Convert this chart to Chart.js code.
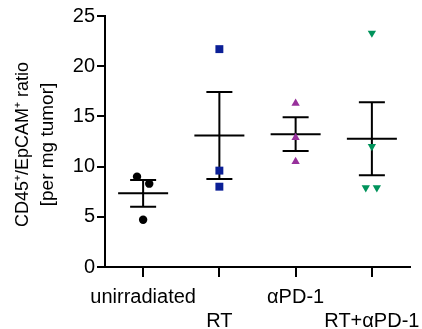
<!DOCTYPE html>
<html>
<head>
<meta charset="utf-8">
<script src="https://cdn.jsdelivr.net/npm/chart.js@4/dist/chart.umd.min.js"></script>
<style>
  html, body { margin: 0; padding: 0; background: #fff; }
  #wrap { width: 422px; height: 329px; }
</style>
</head>
<body>
<div id="wrap"><canvas id="chart"></canvas></div>
<script>
// Data
const groups = ["unirradiated", "RT", "\u03b1PD-1", "RT+\u03b1PD-1"];
const unirradiated = [9.0, 8.3, 4.7];
const rt = [21.7, 9.6, 8.0];
const aPD1 = [16.3, 12.9, 10.5];
const rtAPD1 = [23.3, 12.0, 7.9, 7.9];
// small horizontal scatter of points (in group units)
const jitter = [[-0.08, 0.08, 0], [0, 0, 0], [0, 0, 0], [0, 0, -0.08, 0.065]];
const yTicks = [0, 5, 10, 15, 20, 25];

const series = [unirradiated, rt, aPD1, rtAPD1];
const colors = ["#000000", "#0b1f96", "#97309b", "#00935b"];
const shapes = ["circle", "rect", "triangle", "triangle"];

const mean = (a) => a.reduce((s, v) => s + v, 0) / a.length;
const sem = (a) => {
  const m = mean(a);
  const v = a.reduce((s, x) => s + (x - m) * (x - m), 0) / (a.length - 1);
  return Math.sqrt(v / a.length);
};

const FONT = "'Liberation Sans', Arial, Helvetica, sans-serif";

// mean +- SEM bars
const errorBars = {
  id: "errorBars",
  beforeDatasetsDraw(chart) {
    const { ctx, scales } = chart;
    const x = scales.x, y = scales.y;
    ctx.save();
    ctx.strokeStyle = "#000";
    ctx.lineWidth = 2;
    series.forEach((vals, i) => {
      const m = mean(vals), s = sem(vals);
      const px = x.getPixelForValue(i + 1);
      const pm = y.getPixelForValue(m);
      const pt = y.getPixelForValue(m + s);
      const pb = y.getPixelForValue(m - s);
      ctx.beginPath();
      ctx.moveTo(px - 25, pm); ctx.lineTo(px + 25, pm);
      ctx.moveTo(px, pt); ctx.lineTo(px, pb);
      ctx.moveTo(px - 13, pt); ctx.lineTo(px + 13, pt);
      ctx.moveTo(px - 13, pb); ctx.lineTo(px + 13, pb);
      ctx.stroke();
    });
    ctx.restore();
  },
};

// two-line y title
const yTitle = {
  id: "yTitle",
  afterDraw(chart) {
    const ctx = chart.ctx;
    const lines = [["CD45\u207a/EpCAM\u207a ratio", 23, 18], ["[per mg tumor]", 48, 19]];
    lines.forEach(([txt, cx, size]) => {
      ctx.save();
      ctx.fillStyle = "#000";
      ctx.font = size + "px " + FONT;
      ctx.textAlign = "center";
      ctx.textBaseline = "middle";
      ctx.translate(cx, 144.5);
      ctx.rotate(-Math.PI / 2);
      ctx.fillText(txt, 0, 0);
      ctx.restore();
    });
  },
};

const datasets = series.map((vals, i) => ({
  label: groups[i],
  data: vals.map((v, j) => ({ x: i + 1 + jitter[i][j], y: v })),
  pointStyle: shapes[i],
  rotation: i === 3 ? 180 : 0,
  pointRadius: i === 0 ? 4.2 : i === 1 ? 5.6 : 4.8,
  backgroundColor: colors[i],
  borderColor: colors[i],
  borderWidth: 0,
  showLine: false,
}));

new Chart(document.getElementById("chart"), {
  type: "scatter",
  data: { datasets },
  options: {
    responsive: true,
    maintainAspectRatio: false,
    animation: false,
    layout: { padding: { top: 16, right: 12, left: 0, bottom: 0 } },
    plugins: { legend: { display: false }, tooltip: { enabled: false } },
    scales: {
      x: {
        type: "linear",
        min: 0.5,
        max: 4.5,
        afterBuildTicks: (s) => { s.ticks = groups.map((g, i) => ({ value: i + 1 })); },
        afterFit: (s) => { s.height = 62; s.paddingLeft = 0; s.paddingRight = 0; },
        border: { display: true, color: "#000", width: 2 },
        grid: { drawOnChartArea: false, drawTicks: true, tickLength: 10, color: "#000", lineWidth: 2 },
        ticks: {
          color: "#000",
          font: { family: FONT, size: 20, lineHeight: 1.18 },
          padding: 9,
          maxRotation: 0,
          autoSkip: false,
          callback: (v) => {
            const i = Math.round(v) - 1;
            return i % 2 === 1 ? ["", groups[i]] : groups[i];
          },
        },
      },
      y: {
        min: 0,
        max: 25,
        afterBuildTicks: (s) => { s.ticks = yTicks.map((v) => ({ value: v })); },
        afterFit: (s) => { s.width = 105; },
        border: { display: true, color: "#000", width: 2 },
        grid: { drawOnChartArea: false, drawTicks: true, tickLength: 8, color: "#000", lineWidth: 2 },
        ticks: {
          color: "#000",
          font: { family: FONT, size: 20 },
          padding: 2,
        },
      },
    },
  },
  plugins: [errorBars, yTitle],
});
</script>
</body>
</html>
